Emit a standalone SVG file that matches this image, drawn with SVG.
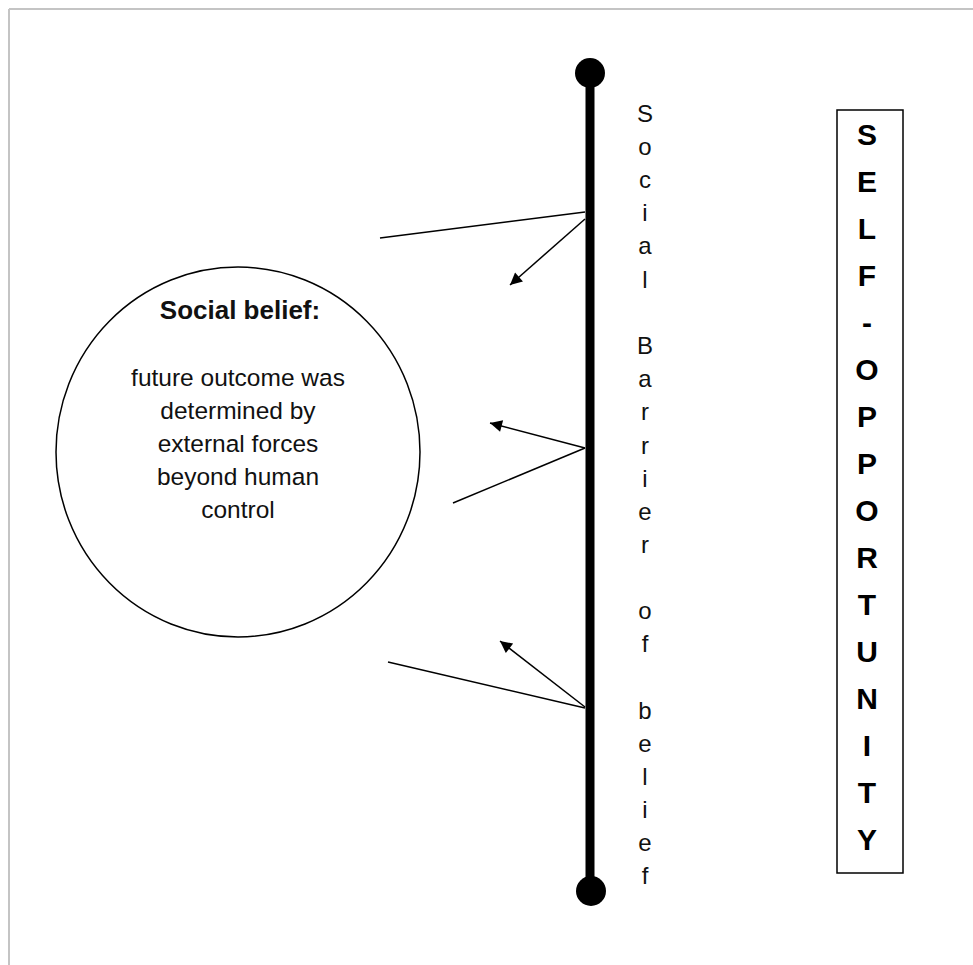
<svg xmlns="http://www.w3.org/2000/svg" width="973" height="965" viewBox="0 0 973 965">
<style>
.thin{stroke:#000;stroke-width:1.5;fill:none}
.vt{font-family:"Liberation Sans",Arial,sans-serif;font-size:24px;fill:#111;text-anchor:middle}
.bt{font-family:"Liberation Sans",Arial,sans-serif;font-size:30px;font-weight:bold;fill:#000;text-anchor:middle}
.et{font-family:"Liberation Sans",Arial,sans-serif;font-size:24.5px;fill:#111;text-anchor:middle}
.eh{font-family:"Liberation Sans",Arial,sans-serif;font-size:26px;font-weight:bold;fill:#111;text-anchor:middle}
</style>
<defs>
<marker id="ah" viewBox="0 0 10 10" refX="10" refY="5" markerWidth="10" markerHeight="10" markerUnits="userSpaceOnUse" orient="auto">
<path d="M0,0 L10,5 L0,10 Z" fill="#000"/>
</marker>
<marker id="ahb" viewBox="0 0 10 10" refX="10" refY="5" markerWidth="14" markerHeight="12" markerUnits="userSpaceOnUse" orient="auto">
<path d="M0,0 L10,5 L0,10 Z" fill="#000"/>
</marker>
</defs>
<rect x="0" y="0" width="973" height="965" fill="#fff"/>
<g id="frame">
<line x1="9" y1="9" x2="973" y2="9" stroke="#c4c4c4" stroke-width="2"/>
<line x1="9" y1="9" x2="9" y2="965" stroke="#c4c4c4" stroke-width="2"/>
</g>
<g id="barrier">
<line x1="590" y1="73" x2="590" y2="891" stroke="#000" stroke-width="9"/>
<circle cx="590" cy="73" r="15" fill="#000"/>
<circle cx="591" cy="891" r="15" fill="#000"/>
<text class="vt"><tspan x="645" y="122">S</tspan><tspan x="645" y="155">o</tspan><tspan x="645" y="188">c</tspan><tspan x="645" y="221">i</tspan><tspan x="645" y="254">a</tspan><tspan x="645" y="288">l</tspan><tspan x="645" y="354">B</tspan><tspan x="645" y="387">a</tspan><tspan x="645" y="420">r</tspan><tspan x="645" y="454">r</tspan><tspan x="645" y="487">i</tspan><tspan x="645" y="520">e</tspan><tspan x="645" y="553">r</tspan><tspan x="645" y="619">o</tspan><tspan x="645" y="652">f</tspan><tspan x="645" y="719">b</tspan><tspan x="645" y="752">e</tspan><tspan x="645" y="785">l</tspan><tspan x="645" y="818">i</tspan><tspan x="645" y="851">e</tspan><tspan x="645" y="884">f</tspan></text>
</g>
<g id="belief">
<ellipse cx="238" cy="452" rx="182" ry="185" fill="none" stroke="#000" stroke-width="1.5"/>
<text class="eh" x="240" y="319">Social belief:</text>
<text class="et"><tspan x="238" y="386">future outcome was</tspan><tspan x="238" y="419">determined by</tspan><tspan x="238" y="452">external forces</tspan><tspan x="238" y="485">beyond human</tspan><tspan x="238" y="518">control</tspan></text>
</g>
<g id="self-opportunity">
<rect x="837" y="110" width="66" height="763" fill="none" stroke="#000" stroke-width="1.5"/>
<text class="bt"><tspan x="867" y="145">S</tspan><tspan x="867" y="192">E</tspan><tspan x="867" y="239">L</tspan><tspan x="867" y="286">F</tspan><tspan x="867" y="333">-</tspan><tspan x="867" y="380">O</tspan><tspan x="867" y="427">P</tspan><tspan x="867" y="474">P</tspan><tspan x="867" y="521">O</tspan><tspan x="867" y="568">R</tspan><tspan x="867" y="615">T</tspan><tspan x="867" y="662">U</tspan><tspan x="867" y="709">N</tspan><tspan x="867" y="756">I</tspan><tspan x="867" y="803">T</tspan><tspan x="867" y="850">Y</tspan></text>
</g>
<g id="connectors">
<line class="thin" x1="585" y1="212" x2="380" y2="238"/>
<line class="thin" x1="585" y1="219" x2="510" y2="285" marker-end="url(#ahb)"/>
<line class="thin" x1="585" y1="448" x2="490" y2="423" marker-end="url(#ahb)"/>
<line class="thin" x1="585" y1="448" x2="453" y2="503"/>
<line class="thin" x1="585" y1="707" x2="500" y2="641" marker-end="url(#ahb)"/>
<line class="thin" x1="585" y1="708" x2="388" y2="662"/>
</g>
</svg>
